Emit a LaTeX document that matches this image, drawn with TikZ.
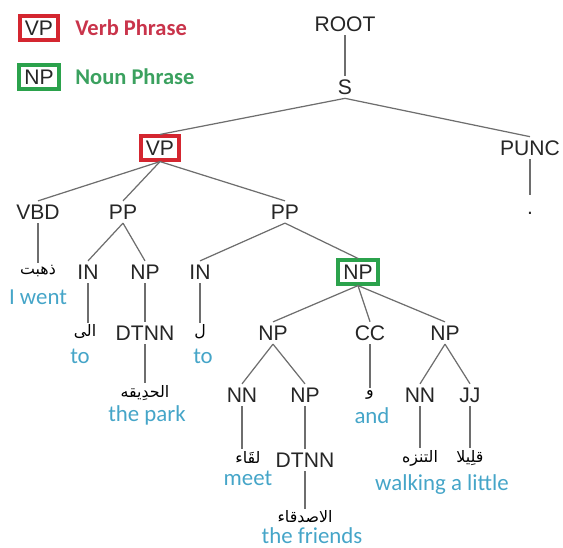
\documentclass[tikz,border=0pt]{standalone}
\usepackage{fontspec}
\setmainfont{Liberation Sans}
\newfontfamily\glossfont{Carlito}
\newfontfamily\arabicfont[Script=Arabic]{DejaVu Sans}
\TeXXeTstate=1
\definecolor{vpred}{HTML}{D42630}
\definecolor{vptext}{HTML}{C9344B}
\definecolor{npgreen}{HTML}{2BA24C}
\definecolor{nptext}{HTML}{3BA15F}
\definecolor{glossblue}{HTML}{45A5C8}
\definecolor{linegray}{HTML}{6E6E6E}

\begin{document}
\begin{tikzpicture}[x=0.2mm, y=-0.2mm]
  \tikzstyle{tag} = [inner sep = 2pt, font = \fontsize{12}{14}\selectfont, text = black!85]
  \tikzstyle{vpbox} = [tag, draw = vpred, line width = 2.2pt, inner xsep = 3pt, inner ysep = 2.5pt]
  \tikzstyle{npbox} = [tag, draw = npgreen, line width = 2.2pt, inner xsep = 3pt, inner ysep = 2.5pt]
  \tikzstyle{word} = [inner sep = 1pt, font = \arabicfont\small]
  \tikzstyle{gloss} = [inner sep = 0pt, text = glossblue, font = \glossfont\fontsize{13}{15}\selectfont]
  \tikzstyle{legend} = [inner sep = 0pt, anchor = west, font = \glossfont\bfseries\fontsize{12.8}{14}\selectfont]
  \tikzstyle{branch} = [draw = linegray, line width = 0.7pt]

  \useasboundingbox (0,0) rectangle (563,547);

  % legend
  \node [vpbox] at (39,28) (key_vp) {VP};
  \node [legend, text = vptext] at (75,28) (key_vp_text) {Verb Phrase};
  \node [npbox] at (39,77) (key_np) {NP};
  \node [legend, text = nptext] at (75,77) (key_np_text) {Noun Phrase};

  % tree
  \node [tag] at (345,24) (root) {ROOT};
  \node [tag] at (345,87) (s) {S};
  \node [vpbox] at (160,148) (vp) {VP};
  \node [tag] at (530,148) (punc) {PUNC};
  \node [tag, text height = 9pt] at (530,207) (dot) {.};
  \node [tag] at (38,212) (vbd) {VBD};
  \node [tag] at (123,212) (pp_a) {PP};
  \node [tag] at (285,212) (pp_b) {PP};
  \node [tag] at (88,272) (in_a) {IN};
  \node [tag] at (145,272) (np_a) {NP};
  \node [tag] at (200,272) (in_b) {IN};
  \node [npbox] at (358,272) (np_b) {NP};
  \node [tag] at (145,333) (dtnn_a) {DTNN};
  \node [tag] at (273,333) (np_c) {NP};
  \node [tag] at (370,333) (cc) {CC};
  \node [tag] at (445,333) (np_d) {NP};
  \node [tag] at (242,395) (nn_a) {NN};
  \node [tag] at (305,395) (np_e) {NP};
  \node [tag] at (420,395) (nn_b) {NN};
  \node [tag] at (470,395) (jj) {JJ};
  \node [tag] at (305,460) (dtnn_b) {DTNN};

  % words and glosses
  \node [word] at (38,271) (w_went) {\beginR ذهبت\endR};
  \node [gloss] at (38,297) (g_went) {I went};
  \node [word] at (85,332) (w_to_a) {\beginR الى\endR};
  \node [gloss] at (80,356) (g_to_a) {to};
  \node [word] at (200,332) (w_to_b) {\beginR ل\endR};
  \node [gloss] at (203,356) (g_to_b) {to};
  \node [word] at (145,393) (w_park) {\beginR الحدِيقه\endR};
  \node [gloss] at (147,415) (g_park) {the park};
  \node [word] at (370,395) (w_and) {\beginR و\endR};
  \node [gloss] at (372,416) (g_and) {and};
  \node [word] at (248,457) (w_meet) {\beginR لقَاء\endR};
  \node [gloss] at (248,478) (g_meet) {meet};
  \node [word] at (420,458) (w_walk) {\beginR التنزه\endR};
  \node [word] at (470,458) (w_little) {\beginR قلِيلا\endR};
  \node [gloss] at (442,485) (g_walk) {walking a little};
  \node [word] at (305,517) (w_friends) {\beginR الاصدقاء\endR};
  \node [gloss] at (312,536) (g_friends) {the friends};

  % branches
  \draw[branch] (root) -- (s);
  \draw[branch] (s.south) -- (vp.north);
  \draw[branch] (s.south) -- (punc.north);
  \draw[branch] (punc) -- (dot);
  \draw[branch] (vp.south) -- (vbd.north);
  \draw[branch] (vp.south) -- (pp_a.north);
  \draw[branch] (vp.south) -- (pp_b.north);
  \draw[branch] (vbd) -- (w_went);
  \draw[branch] (pp_a.south) -- (in_a.north);
  \draw[branch] (pp_a.south) -- (np_a.north);
  \draw[branch] (pp_b.south) -- (in_b.north);
  \draw[branch] (pp_b.south) -- (np_b.north);
  \draw[branch] (in_a.south) -- (in_a.south |- w_to_a.north);
  \draw[branch] (np_a) -- (dtnn_a);
  \draw[branch] (in_b) -- (w_to_b);
  \draw[branch] (dtnn_a) -- (w_park);
  \draw[branch] (np_b.south) -- (np_c.north);
  \draw[branch] (np_b.south) -- (cc.north);
  \draw[branch] (np_b.south) -- (np_d.north);
  \draw[branch] (np_c.south) -- (nn_a.north);
  \draw[branch] (np_c.south) -- (np_e.north);
  \draw[branch] (cc) -- (w_and);
  \draw[branch] (np_d.south) -- (nn_b.north);
  \draw[branch] (np_d.south) -- (jj.north);
  \draw[branch] (nn_a) -- (w_meet.north -| nn_a);
  \draw[branch] (np_e) -- (dtnn_b);
  \draw[branch] (dtnn_b) -- (w_friends);
  \draw[branch] (nn_b) -- (w_walk);
  \draw[branch] (jj) -- (w_little);
\end{tikzpicture}
\end{document}
